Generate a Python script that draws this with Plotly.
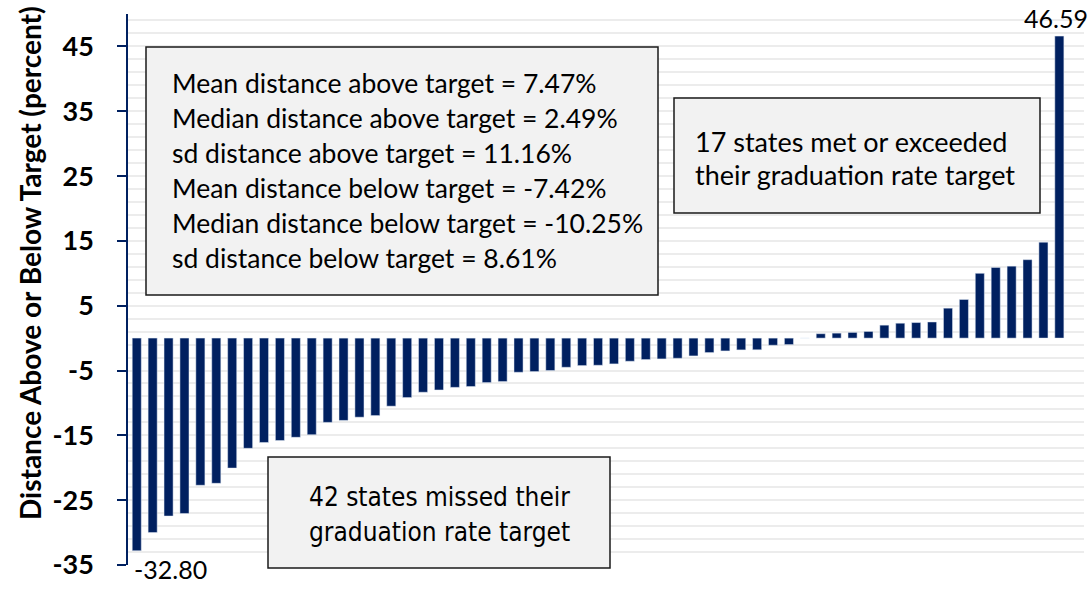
import plotly.graph_objects as go

# distance from graduation-rate target, states sorted low -> high
below_target = [-32.80, -30.0, -27.45, -27.05, -22.7, -22.4, -20.05, -17.0, -16.1, -15.8,
                -15.3, -14.9, -13.0, -12.7, -12.2, -11.95, -10.5, -9.17, -8.35, -8.0,
                -7.6, -7.47, -6.86, -6.7, -5.27, -5.16, -5.0, -4.5, -4.24, -4.19,
                -3.98, -3.57, -3.31, -3.21, -3.11, -2.75, -2.23, -1.98, -1.82, -1.8,
                -1.1, -1.0]
above_target = [0.0, 0.68, 0.77, 0.88, 1.03, 2.0, 2.3, 2.4, 2.49, 4.62,
                5.96, 10.0, 10.9, 11.1, 12.1, 14.8, 46.59]

values = below_target + above_target
states = list(range(1, len(values) + 1))

tick_vals = [-35, -25, -15, -5, 5, 15, 25, 35, 45]
tick_text = ["-35", "-25", "-15", "-5", "5", "15", "25", "35", "45"]

stats_lines = [
    "Mean distance above target = 7.47%",
    "Median distance above target = 2.49%",
    "sd distance above target = 11.16%",
    "Mean distance below target = -7.42%",
    "Median distance below target = -10.25%",
    "sd distance below target = 8.61%",
]
met_lines = ["17 states met or exceeded", "their graduation rate target"]
missed_lines = ["42 states missed their", "graduation rate target"]

NAVY = "#002060"
FONT = "Lato, Calibri, Carlito, sans-serif"
NARROW = "DejaVu Sans Condensed, Liberation Sans Narrow, sans-serif"

W, H = 1092, 590
L, R, T, B = 128, 8, 14, 25


def px(x):
    return (x - L) / (W - L - R)


def py(y):
    return (H - B - y) / (H - T - B)


fig = go.Figure()
fig.add_trace(go.Bar(x=states, y=values, marker_color=NAVY, width=0.57))

shapes = []
annotations = []


def box(x0, y0, x1, y1):
    shapes.append(dict(type="rect", xref="paper", yref="paper",
                       x0=px(x0), x1=px(x1), y0=py(y1), y1=py(y0),
                       fillcolor="#f2f2f2", line=dict(color="#1a1a1a", width=1.5),
                       layer="above"))


def lines(texts, x, y_first, step, font, size, anchor="left"):
    for i, t in enumerate(texts):
        annotations.append(dict(text=t, xref="paper", yref="paper",
                                x=px(x), y=py(y_first + i * step),
                                xanchor=anchor, yanchor="middle", showarrow=False,
                                font=dict(family=font, size=size, color="#000")))


box(146, 47, 658, 295)
lines(stats_lines, 170, 83, 35, FONT, 26.5)
box(674, 98, 1040, 213)
lines(met_lines, 693, 141, 34, FONT, 27)
box(268, 457, 610, 568)
lines(missed_lines, 439, 497, 35, NARROW, 26, anchor="center")

# data labels on the extreme bars
annotations.append(dict(text=f"{values[0]:.2f}", x=states[0], y=values[0], xref="x", yref="y",
                        xanchor="left", yanchor="top", xshift=-5, yshift=-1, showarrow=False,
                        font=dict(family=FONT, size=25, color="#000")))
annotations.append(dict(text=f"{values[-1]:.2f}", x=states[-1], y=values[-1], xref="x", yref="y",
                        xanchor="center", yanchor="bottom", xshift=-3, yshift=1, showarrow=False,
                        font=dict(family=FONT, size=25, color="#000")))

# y-axis title
annotations.append(dict(text="<b>Distance Above or Below Target (percent)</b>",
                        xref="paper", yref="paper", x=px(30), y=py(263),
                        textangle=-90, showarrow=False, xanchor="center", yanchor="middle",
                        font=dict(family=FONT, size=28, color="#000")))

fig.update_layout(
    width=W, height=H,
    margin=dict(l=L, r=R, t=T, b=B),
    paper_bgcolor="white", plot_bgcolor="white",
    showlegend=False,
    shapes=shapes,
    annotations=annotations,
)
fig.update_xaxes(range=[0.45, 60.55], showticklabels=False, showgrid=False,
                 zeroline=False, showline=False, ticks="")
fig.update_yaxes(
    range=[-35, 50], tickmode="array", tickvals=tick_vals, ticktext=tick_text,
    showline=True, linecolor=NAVY, linewidth=1.5,
    ticks="outside", ticklen=9, tickwidth=1.5, tickcolor=NAVY,
    ticklabelstandoff=18,
    tickfont=dict(family=FONT, size=27, color="#000", weight="bold"),
    showgrid=True, gridcolor="#ececec", gridwidth=1.5,
    zeroline=False,
    minor=dict(tick0=-35, dtick=2, showgrid=True, gridcolor="#ececec", gridwidth=1.5, ticks=""),
)

fig.write_html("out.html", config={"displayModeBar": False},
               post_script="document.body.style.margin='0';")
